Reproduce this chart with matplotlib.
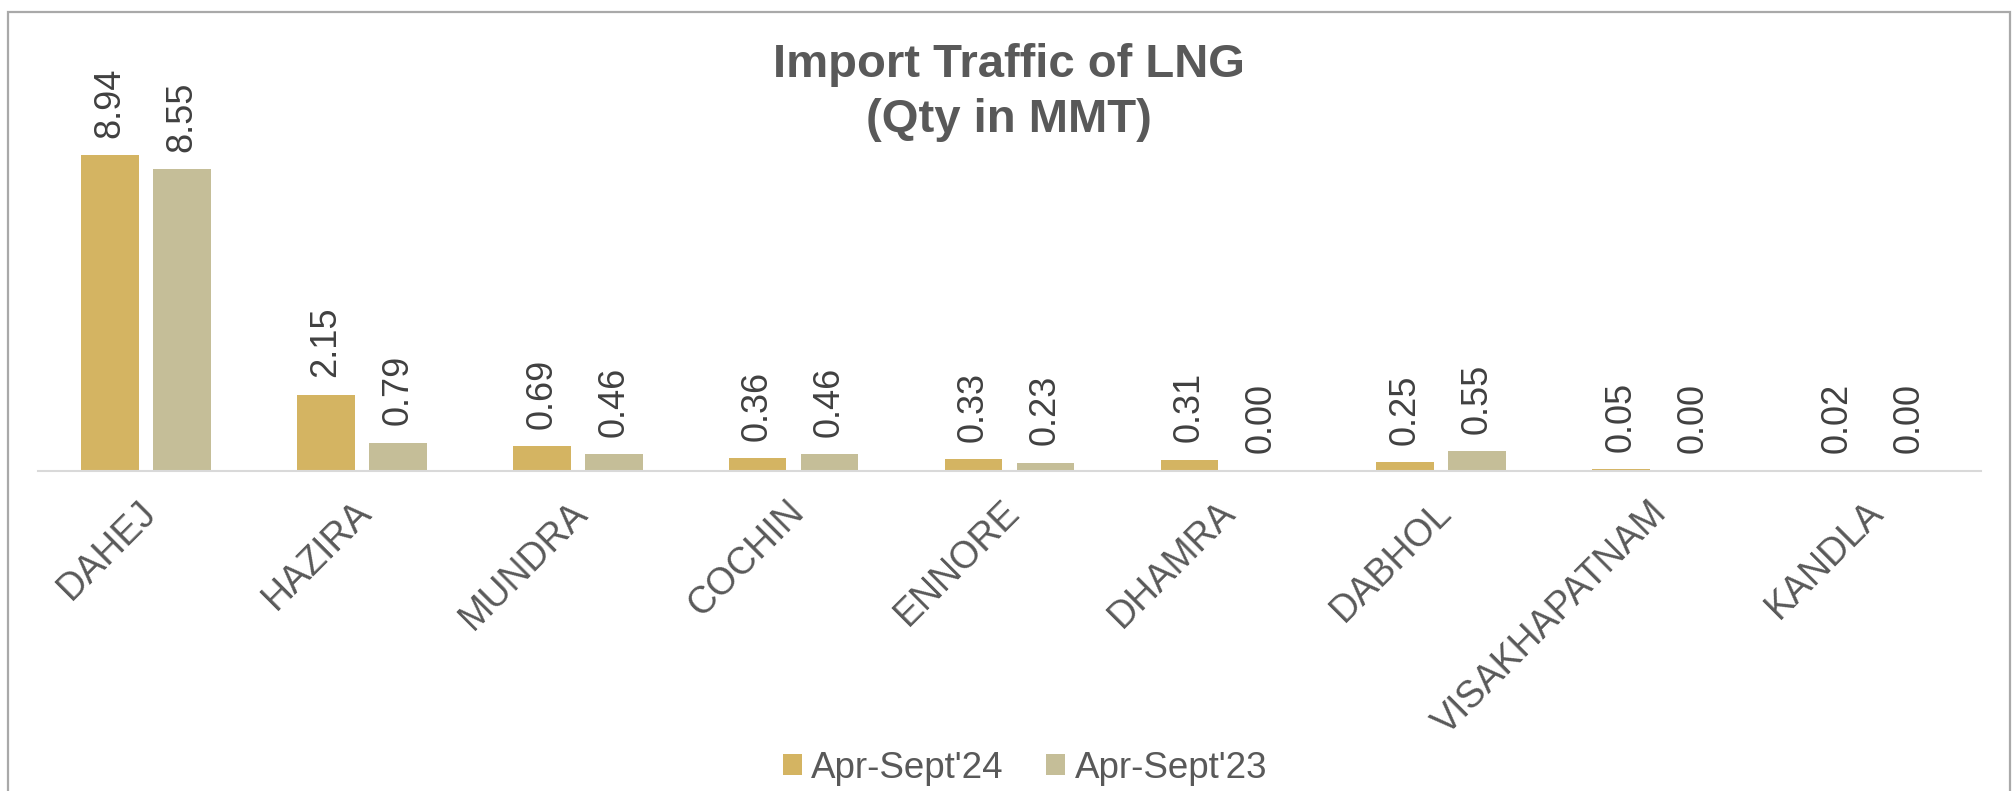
import numpy as np
import matplotlib
matplotlib.use('Agg')
import matplotlib.pyplot as plt
import matplotlib.transforms as mtransforms
from matplotlib.patches import Rectangle

plt.rcParams['font.family'] = ['Liberation Sans', 'DejaVu Sans']

# data
ports = ['DAHEJ', 'HAZIRA', 'MUNDRA', 'COCHIN', 'ENNORE', 'DHAMRA',
         'DABHOL', 'VISAKHAPATNAM', 'KANDLA']
qty_24 = [8.94, 2.15, 0.69, 0.36, 0.33, 0.31, 0.25, 0.05, 0.02]
qty_23 = [8.55, 0.79, 0.46, 0.46, 0.23, 0.00, 0.55, 0.00, 0.00]

c24 = '#D4B462'
c23 = '#C5BE98'
grey = '#595959'

W, H = 2015, 791
fig = plt.figure(figsize=(W / 100, H / 100), dpi=100)

# outer chart border
fig.patches.append(Rectangle((8 / W, -0.02), (2010 - 8) / W, 1.02 - 11.7 / H,
                             transform=fig.transFigure, fill=False,
                             edgecolor='#a9a9a9', linewidth=1.6))

ax = fig.add_axes([38 / W, 1 - 470.7 / H, 1943 / W, 353 / H])

x = np.arange(len(ports))
w = 0.267
b1 = ax.bar(x - 0.1667, qty_24, w, color=c24, label="Apr-Sept'24")
b2 = ax.bar(x + 0.1667, qty_23, w, color=c23, label="Apr-Sept'23")

for bars in (b1, b2):
    ax.bar_label(bars, fmt='%.2f', rotation=90, padding=12.5,
                 fontsize=26, color='#404040')

ax.set_xlim(-0.5, len(ports) - 0.5)
ax.set_ylim(0, 10)
ax.set_yticks([])
for s in ['top', 'right', 'left']:
    ax.spines[s].set_visible(False)
ax.spines['bottom'].set_color('#d9d9d9')
ax.spines['bottom'].set_linewidth(1.5)

ax.set_xticks(x)
ax.set_xticklabels(ports, rotation=45, ha='right', va='top',
                   rotation_mode='anchor', fontsize=27, color=grey)
ax.tick_params(axis='x', length=0, pad=17)
offset = mtransforms.ScaledTranslation(-6 / 72, 0, fig.dpi_scale_trans)
for lab in ax.get_xticklabels():
    lab.set_transform(lab.get_transform() + offset)

# title
fig.text(1008.7 / W, 1 - 76.7 / H, 'Import Traffic of LNG', ha='center',
         va='baseline', fontsize=34, fontweight='bold', color=grey)
fig.text(1008.7 / W, 1 - 131.7 / H, '(Qty in MMT)', ha='center',
         va='baseline', fontsize=34, fontweight='bold', color=grey)

leg = fig.legend(loc='center', bbox_to_anchor=(1025 / W, 1 - 768 / H),
                 ncol=2, frameon=False, fontsize=26.5, labelcolor=grey,
                 handlelength=0.52, handleheight=0.52, handletextpad=0.25,
                 columnspacing=1.15, borderpad=0)

fig.savefig('out.png', dpi=100)
